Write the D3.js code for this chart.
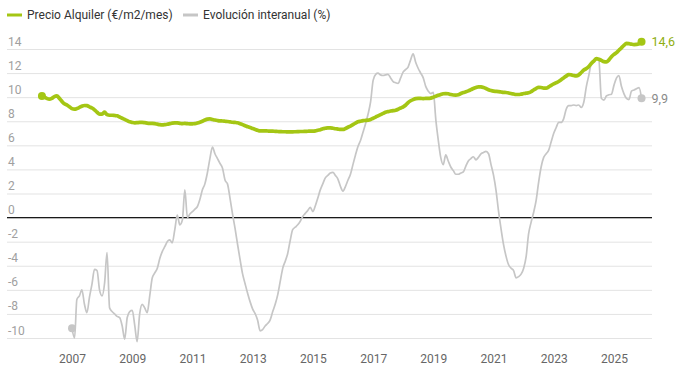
<!DOCTYPE html>
<html>
<head>
<meta charset="utf-8">
<script src="https://cdn.jsdelivr.net/npm/d3@7"></script>
<style>
  body { margin: 0; background: #fff; }
  svg { font-family: Roboto, "Noto Sans", sans-serif; }
</style>
</head>
<body>
<svg id="chart"></svg>
<script>
// monthly data, price from Jan 2006, yearly change from Jan 2007
const precioStart = 2006;
const precio = [
  10.1, 10.0, 9.9, 9.83, 9.9, 10.05, 10.1, 9.9, 9.65, 9.45, 9.35, 9.2,
  9.05, 9.0, 9.05, 9.15, 9.25, 9.31, 9.3, 9.2, 9.1, 8.95, 8.75, 8.6,
  8.6, 8.75, 8.55, 8.5, 8.5, 8.48, 8.45, 8.35, 8.25, 8.15, 8.05, 7.95,
  7.9, 7.87, 7.88, 7.9, 7.9, 7.88, 7.85, 7.83, 7.82, 7.8, 7.76, 7.72,
  7.7, 7.72, 7.75, 7.8, 7.85, 7.87, 7.86, 7.83, 7.8, 7.82, 7.8, 7.78,
  7.79, 7.8, 7.85, 7.92, 8.0, 8.1, 8.18, 8.2, 8.15, 8.1, 8.06, 8.03,
  8.02, 8.0, 7.98, 7.95, 7.92, 7.9, 7.87, 7.8, 7.72, 7.62, 7.55, 7.48,
  7.4, 7.32, 7.25, 7.2, 7.2, 7.2, 7.19, 7.18, 7.18, 7.16, 7.15, 7.14,
  7.13, 7.13, 7.12, 7.12, 7.12, 7.13, 7.14, 7.15, 7.15, 7.16, 7.17, 7.18,
  7.18, 7.2, 7.25, 7.3, 7.38, 7.42, 7.45, 7.45, 7.42, 7.38, 7.35, 7.32,
  7.32, 7.4, 7.5, 7.6, 7.72, 7.85, 7.95, 8.0, 8.05, 8.07, 8.09, 8.15,
  8.25, 8.35, 8.45, 8.55, 8.65, 8.75, 8.8, 8.85, 8.88, 8.92, 9.0, 9.1,
  9.2, 9.35, 9.55, 9.7, 9.8, 9.88, 9.9, 9.9, 9.88, 9.9, 9.9, 9.92,
  10.0, 10.08, 10.15, 10.22, 10.28, 10.3, 10.28, 10.22, 10.18, 10.17, 10.2, 10.3,
  10.38, 10.44, 10.52, 10.62, 10.72, 10.8, 10.86, 10.85, 10.8, 10.72, 10.62, 10.55,
  10.5, 10.48, 10.46, 10.43, 10.4, 10.39, 10.35, 10.3, 10.26, 10.22, 10.22, 10.25,
  10.3, 10.33, 10.36, 10.45, 10.6, 10.72, 10.82, 10.8, 10.75, 10.75, 10.85, 10.98,
  11.1, 11.2, 11.3, 11.45, 11.6, 11.75, 11.88, 11.85, 11.8, 11.77, 11.85, 12.05,
  12.25, 12.38, 12.55, 12.8, 13.0, 13.2, 13.15, 13.05, 12.95, 12.93, 13.1, 13.35,
  13.55, 13.7, 13.9, 14.1, 14.3, 14.46, 14.45, 14.4, 14.37, 14.38, 14.45, 14.6
];

const interanualStart = 2007;
const interanual = [
  -9.2, -10.0, -6.8, -6.5, -6.0, -7.2, -7.9, -6.6, -5.5, -4.3, -4.4, -6.0,
  -6.5, -5.4, -2.9, -7.5, -7.8, -8.0, -8.2, -8.3, -9.0, -10.1, -8.3, -7.8,
  -7.7, -9.0, -10.3, -8.0, -7.2, -7.5, -7.9, -6.5, -5.0, -4.6, -4.2, -3.4,
  -2.8, -2.4, -2.0, -1.85, -2.1, -1.0, 0.2, -0.6, -0.2, 2.3, 0.0, 0.3,
  0.5, 0.7, 0.9, 1.5, 2.3, 2.8, 3.7, 4.9, 5.85, 5.3, 4.9, 4.5,
  4.1, 3.1, 2.8, 1.6, 0.3, -0.9, -2.2, -3.5, -4.7, -5.5, -6.3, -7.0,
  -7.6, -8.0, -8.5, -9.4, -9.3, -9.0, -8.8, -8.5, -7.8, -7.2, -6.4, -5.3,
  -4.2, -3.6, -3.0, -1.9, -1.0, -0.8, -0.6, -0.3, 0.1, 0.35, 0.6, 0.85,
  0.5, 1.0, 1.6, 2.3, 2.8, 3.3, 3.5, 3.7, 3.75, 3.5, 3.2, 2.6,
  2.2, 2.6, 3.1, 3.6, 4.4, 5.2, 5.9, 6.4, 7.1, 7.8, 8.6, 9.6,
  11.4, 11.9, 12.0, 11.85, 11.8, 11.85, 11.9, 11.6, 11.3, 11.2, 11.15, 11.6,
  12.1, 12.3, 12.5, 13.1, 13.6, 12.9, 12.4, 12.0, 11.6, 10.9, 10.5, 10.3,
  10.4, 8.1, 6.5, 5.0, 4.4, 5.2, 4.7, 4.2, 3.9, 3.6, 3.6, 3.7,
  3.8, 4.3, 4.7, 4.9, 5.05, 4.8, 5.0, 5.3, 5.4, 5.5, 5.3, 4.4,
  3.5, 2.2, 0.6, -0.9, -2.2, -3.2, -3.9, -4.2, -4.4, -5.0, -4.9, -4.7,
  -4.2, -3.2, -1.4, -0.4, 0.4, 1.4, 2.9, 4.2, 5.0, 5.3, 5.6, 6.3,
  7.0, 7.5, 7.9, 7.9, 8.2, 9.0, 9.3, 9.3, 9.35, 9.3, 9.35, 9.15,
  9.6, 10.9, 11.8, 12.8, 13.0, 13.2, 13.1, 9.9, 9.75, 10.1, 10.2, 10.25,
  11.0, 11.6, 11.8, 10.9, 10.3, 9.9, 9.8, 10.5, 10.6, 10.7, 10.8, 9.9
];

const xTickYears = [2007, 2009, 2011, 2013, 2015, 2017, 2019, 2021, 2023, 2025];
const yTicks = [-10, -8, -6, -4, -2, 0, 2, 4, 6, 8, 10, 12, 14];
const seriesNames = ["Precio Alquiler (€/m2/mes)", "Evolución interanual (%)"];

const green = "#a4c614";
const grey = "#c6c6c6";

const margin = {top: 49, right: 27, bottom: 32, left: 7},
  width = 679 - margin.left - margin.right,
  height = 370 - margin.top - margin.bottom;

const root = d3.select("#chart")
  .attr("width", width + margin.left + margin.right)
  .attr("height", height + margin.top + margin.bottom);

const svg = root.append("g")
  .attr("transform", "translate(" + margin.left + "," + margin.top + ")");

const toRows = (values, startYear) => values.map((v, i) => ({
  date: new Date(startYear, i, 1),
  value: v
}));
const precioRows = toRows(precio, precioStart);
const interanualRows = toRows(interanual, interanualStart);

const x = d3.scaleTime()
  .domain([new Date(2007, 0, 1), new Date(2025, 0, 1)])
  .range([65, 607]);
const y = d3.scaleLinear()
  .domain([-10, 14])
  .range([height, 0]);

// grid + y labels
const yAxis = svg.append("g")
  .call(d3.axisRight(y).tickValues(yTicks).tickSize(width).tickFormat(d => String(d)));
yAxis.select(".domain").remove();
yAxis.selectAll("line").attr("stroke", "#e3e3e3");
yAxis.selectAll("text")
  .attr("x", 1)
  .attr("dy", -4)
  .attr("fill", "#a0a0a0")
  .attr("font-size", "12px")
  .attr("font-family", "Roboto, sans-serif")
  .style("text-anchor", "start");

svg.append("line")
  .attr("x1", 0)
  .attr("x2", width)
  .attr("y1", y(0))
  .attr("y2", y(0))
  .attr("stroke", "#1a1a1a")
  .attr("stroke-width", 1.2);

// x labels
const xAxis = svg.append("g")
  .attr("transform", "translate(0," + (height + 13) + ")")
  .call(d3.axisBottom(x).tickValues(xTickYears.map(yr => new Date(yr, 0, 1))).tickSize(0).tickFormat(d3.timeFormat("%Y")));
xAxis.select(".domain").remove();
xAxis.selectAll("text")
  .attr("fill", "#666")
  .attr("font-size", "12px")
  .attr("font-family", "Roboto, sans-serif");

const line = d3.line()
  .x(d => x(d.date))
  .y(d => y(d.value))
  .curve(d3.curveMonotoneX);

svg.append("path")
  .datum(interanualRows)
  .attr("fill", "none")
  .attr("stroke", grey)
  .attr("stroke-width", 1.7)
  .attr("stroke-linejoin", "round")
  .attr("d", line);

svg.append("path")
  .datum(precioRows)
  .attr("fill", "none")
  .attr("stroke", green)
  .attr("stroke-width", 3.7)
  .attr("stroke-linejoin", "round")
  .attr("stroke-linecap", "round")
  .attr("d", line);

// start / end dots
const ends = [
  {rows: interanualRows, color: grey, label: "#8a8a8a"},
  {rows: precioRows, color: green, label: "#8fae12"}
];
ends.forEach(s => {
  const first = s.rows[0], last = s.rows[s.rows.length - 1];
  svg.selectAll(null)
    .data([first, last])
    .enter().append("circle")
    .attr("cx", d => x(d.date))
    .attr("cy", d => y(d.value))
    .attr("r", 4)
    .attr("fill", s.color);
  svg.append("text")
    .attr("x", x(last.date) + 10)
    .attr("y", y(last.value))
    .attr("dy", "0.35em")
    .attr("font-size", "12.5px")
    .attr("fill", s.label)
    .text(d3.format(".1f")(last.value).replace(".", ","));
});

// legend
const legend = root.append("g").attr("transform", "translate(7,15)");
const legendItems = [
  {name: seriesNames[0], color: green, x: 0},
  {name: seriesNames[1], color: grey, x: 176}
];
legendItems.forEach(d => {
  legend.append("line")
    .attr("x1", d.x).attr("x2", d.x + 15)
    .attr("y1", 0).attr("y2", 0)
    .attr("stroke", d.color)
    .attr("stroke-width", 3);
  legend.append("text")
    .attr("x", d.x + 20)
    .attr("y", 0)
    .attr("dy", "0.35em")
    .attr("font-size", "12px")
    .attr("fill", "#333")
    .text(d.name);
});
</script>
</body>
</html>
